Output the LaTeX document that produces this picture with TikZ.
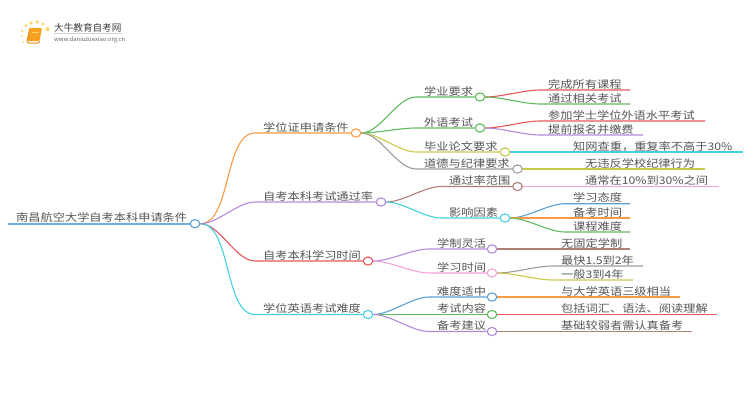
\documentclass[tikz,border=0pt]{standalone}
\usepackage{fontspec}
\setmainfont{Noto Sans CJK SC}[FakeStretch=1.163]
\newfontfamily\logofont{Noto Sans CJK SC}
\usetikzlibrary{shapes.geometric,backgrounds}
\definecolor{cOrange}{HTML}{FF9A45}
\definecolor{cPurple}{HTML}{B588DC}
\definecolor{cRed}{HTML}{E5575C}
\definecolor{cCyan}{HTML}{45D0E0}
\definecolor{cGreen}{HTML}{5FBB5C}
\definecolor{cBlue}{HTML}{5A9FD6}
\definecolor{cBrown}{HTML}{AD8076}
\definecolor{cPink}{HTML}{F3A2DC}
\definecolor{cGray}{HTML}{9C9C9C}
\definecolor{cOlive}{HTML}{C9C94A}
\definecolor{cText}{HTML}{555555}
\definecolor{cBook}{HTML}{F7A11E}
\definecolor{cBookEdge}{HTML}{EE8A1C}
\definecolor{cSpark}{HTML}{FBD56E}
\tikzset{
  dot/.style={ellipse,draw=#1,fill=white,line width=1.1pt,minimum width=9.6pt,minimum height=8.2pt,inner sep=0pt},
  lab/.style={anchor=base west,inner sep=0pt,yshift=0.5pt,text=cText,font=\fontsize{10.5}{14}\selectfont},
  wire/.style={draw=#1,line width=1.1pt},
  curve/.style={wire=#1,out=0,in=180,looseness=0.75},
}
\begin{document}
\begin{tikzpicture}[x=1pt,y=-1pt]
\useasboundingbox (0,0) rectangle (750,410);
% logo
\fill[cBook,rounded corners=1pt] (30,28) -- (42,28) -- (39.5,41) -- (27,41) -- cycle;
\draw[cBookEdge,line width=1pt,rounded corners=1pt] (30,28) -- (27,41) -- (27.5,43) -- (39,43) -- (39.5,41);
\draw[cSpark,line width=0.7pt] (32,32) -- (38.5,32);
\foreach \p/\r in {{26,25.5}/1.7,{31,23}/1.9,{37.3,22}/1.9,{43,24}/1.7,{47.5,29}/2.1,{22.3,31}/1.3,{22,36}/1,{23.5,42}/0.8}
  \fill[cSpark] (\p) circle (\r);
\node[anchor=base west,inner sep=0pt,text=black!75,font=\logofont\fontsize{9.6}{11}\selectfont] (brand) at (54,31) {大牛教育自考网};
\coordinate (ruleA) at (54,33.5);
\coordinate (ruleB) at (122,33.5);
\draw[black!18,line width=0.6pt] (ruleA) -- (ruleB);
\node[anchor=base west,inner sep=0pt,text=black!60,font=\logofont\fontsize{5.9}{7}\selectfont] (site) at (54,41) {www.daniuzuexiao.org.cn};

% nodes
\node[dot=cBlue] (root) at (195,223.7) {};
\node[dot=cOrange] (a) at (356,133) {};
\node[dot=cPurple] (b) at (381,202) {};
\node[dot=cRed] (c) at (368,261) {};
\node[dot=cCyan] (d) at (368,314.5) {};

\node[dot=cGreen] (a1) at (480,97) {};
\node[dot=cGreen] (a2) at (480,128) {};
\node[dot=cOlive] (a3) at (505,152) {};
\node[dot=cGray] (a4) at (517.5,169) {};
\node[dot=cBrown] (b1) at (517.5,186.5) {};
\node[dot=cCyan] (b2) at (505,218) {};
\node[dot=cPurple] (c1) at (492,249) {};
\node[dot=cPink] (c2) at (492,273) {};
\node[dot=cBlue] (d1) at (492,297) {};
\node[dot=cGreen] (d2) at (492,314.5) {};
\node[dot=cPurple] (d3) at (492,331.5) {};

% bar starts and free ends
\coordinate (rootS) at (8,223.7);
\coordinate (aS) at (255,133);
\coordinate (bS) at (255,202);
\coordinate (cS) at (255,261);
\coordinate (dS) at (255,314.5);
\coordinate (a1S) at (416,97);
\coordinate (a2S) at (416,128);
\coordinate (a3S) at (416,152);
\coordinate (a4S) at (416,169);
\coordinate (b1S) at (441,186.5);
\coordinate (b2S) at (441,218);
\coordinate (c1S) at (429,249);
\coordinate (c2S) at (429,273);
\coordinate (d1S) at (429,297);
\coordinate (d2S) at (429,314.5);
\coordinate (d3S) at (429,331.5);
\coordinate (l1S) at (540,90);    \coordinate (l1E) at (630,90);
\coordinate (l2S) at (540,104);   \coordinate (l2E) at (630,104);
\coordinate (l3S) at (540,121);   \coordinate (l3E) at (705,121);
\coordinate (l4S) at (540,135);   \coordinate (l4E) at (643,135);
\coordinate (l5E) at (743,152);
\coordinate (l6E) at (705,169);
\coordinate (l7E) at (719,186.5);
\coordinate (l8S) at (565,203.7); \coordinate (l8E) at (630,203.7);
\coordinate (l9S) at (565,218);   \coordinate (l9E) at (630,218);
\coordinate (l10S) at (565,232);  \coordinate (l10E) at (630,232);
\coordinate (l11E) at (630,249);
\coordinate (l12S) at (553,266);  \coordinate (l12E) at (643,266);
\coordinate (l13S) at (553,280);  \coordinate (l13E) at (633,280);
\coordinate (l14E) at (680,297);
\coordinate (l15E) at (717,314.5);
\coordinate (l16E) at (692,331.5);

% connectors
\begin{scope}[on background layer]
\draw[draw=cBlue!85,line width=2.2pt] (rootS) -- (root.west);
\draw[curve=cOrange] (root.east) to (aS) -- (a.west);
\draw[curve=cPurple] (root.east) to (bS) -- (b.west);
\draw[curve=cRed] (root.east) to (cS) -- (c.west);
\draw[curve=cCyan] (root.east) to (dS) -- (d.west);

\draw[curve=cGreen] (a.east) to (a1S) -- (a1.west);
\draw[curve=cGreen] (a.east) to (a2S) -- (a2.west);
\draw[curve=cOlive] (a.east) to (a3S) -- (a3.west);
\draw[curve=cGray] (a.east) to (a4S) -- (a4.west);
\draw[curve=cBrown] (b.east) to (b1S) -- (b1.west);
\draw[curve=cCyan] (b.east) to (b2S) -- (b2.west);
\draw[curve=cPurple] (c.east) to (c1S) -- (c1.west);
\draw[curve=cPink] (c.east) to (c2S) -- (c2.west);
\draw[curve=cBlue] (d.east) to (d1S) -- (d1.west);
\draw[curve=cGreen] (d.east) to (d2S) -- (d2.west);
\draw[curve=cPurple] (d.east) to (d3S) -- (d3.west);

\draw[curve=cRed] (a1.east) to (l1S) -- (l1E);
\draw[curve=cGreen] (a1.east) to (l2S) -- (l2E);
\draw[curve=cRed] (a2.east) to (l3S) -- (l3E);
\draw[curve=cPurple] (a2.east) to (l4S) -- (l4E);
\draw[wire=cCyan] (a3.east) -- (l5E);
\draw[wire=cOlive] (a4.east) -- (l6E);
\draw[wire=cPink] (b1.east) -- (l7E);
\draw[curve=cBlue] (b2.east) to (l8S) -- (l8E);
\draw[curve=cOrange] (b2.east) to (l9S) -- (l9E);
\draw[curve=cGreen] (b2.east) to (l10S) -- (l10E);
\draw[wire=cBrown] (c1.east) -- (l11E);
\draw[curve=cGray] (c2.east) to (l12S) -- (l12E);
\draw[curve=cOlive] (c2.east) to (l13S) -- (l13E);
\draw[wire=cOrange] (d1.east) -- (l14E);
\draw[wire=cRed] (d2.east) -- (l15E);
\draw[wire=cBrown] (d3.east) -- (l16E);
\end{scope}

% labels
\node[lab] (t0) at (16,222.2) {南昌航空大学自考本科申请条件};
\node[lab] (ta) at (263,131.7) {学位证申请条件};
\node[lab] (tb) at (263,200.7) {自考本科考试通过率};
\node[lab] (tc) at (263,259.7) {自考本科学习时间};
\node[lab] (td) at (263,313) {学位英语考试难度};
\node[lab] (ta1) at (424,95.7) {学业要求};
\node[lab] (ta2) at (424,126.7) {外语考试};
\node[lab] (ta3) at (424,150.7) {毕业论文要求};
\node[lab] (ta4) at (424,167.7) {道德与纪律要求};
\node[lab] (tb1) at (449,185) {通过率范围};
\node[lab] (tb2) at (449,216.7) {影响因素};
\node[lab] (tc1) at (437,247.7) {学制灵活};
\node[lab] (tc2) at (437,271.7) {学习时间};
\node[lab] (td1) at (437,295.7) {难度适中};
\node[lab] (td2) at (437,313) {考试内容};
\node[lab] (td3) at (437,330) {备考建议};
\node[lab] (l1) at (548,88.7) {完成所有课程};
\node[lab] (l2) at (548,102.7) {通过相关考试};
\node[lab] (l3) at (548,119.7) {参加学士学位外语水平考试};
\node[lab] (l4) at (548,133.7) {提前报名并缴费};
\node[lab] (l5) at (573,150.7) {知网查重，重复率不高于30\%};
\node[lab] (l6) at (585,167.7) {无违反学校纪律行为};
\node[lab] (l7) at (585,185) {通常在10\%到30\%之间};
\node[lab] (l8) at (573,202.4) {学习态度};
\node[lab] (l9) at (573,216.7) {备考时间};
\node[lab] (l10) at (573,230.7) {课程难度};
\node[lab] (l11) at (561,247.7) {无固定学制};
\node[lab] (l12) at (561,264.7) {最快1.5到2年};
\node[lab] (l13) at (561,278.7) {一般3到4年};
\node[lab] (l14) at (561,295.7) {与大学英语三级相当};
\node[lab] (l15) at (561,313) {包括词汇、语法、阅读理解};
\node[lab] (l16) at (561,330) {基础较弱者需认真备考};
\end{tikzpicture}
\end{document}
